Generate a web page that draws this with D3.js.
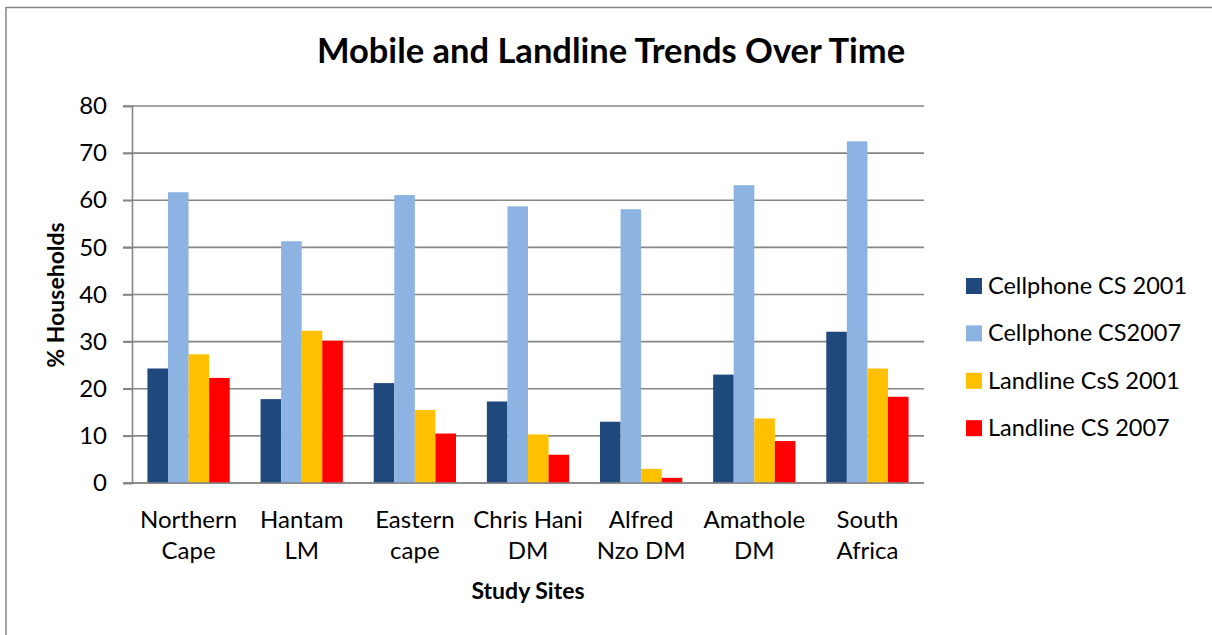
<!DOCTYPE html>
<html>
<head>
<meta charset="utf-8">
<script src="https://cdn.jsdelivr.net/npm/d3@7/dist/d3.min.js"></script>
<style>
  html, body { margin: 0; padding: 0; background: #fff; }
  svg { display: block; font-family: Lato, "Open Sans", sans-serif; }
</style>
</head>
<body>
<svg id="chart" width="1212" height="635"></svg>
<script>
// Study sites (two-line category labels)
const categories = [
  ["Northern", "Cape"],
  ["Hantam", "LM"],
  ["Eastern", "cape"],
  ["Chris Hani", "DM"],
  ["Alfred", "Nzo DM"],
  ["Amathole", "DM"],
  ["South", "Africa"]
];

const seriesNames = ["Cellphone CS 2001", "Cellphone CS2007", "Landline CsS 2001", "Landline CS 2007"];
const seriesColors = ["#1F497D", "#8DB3E2", "#FFC000", "#FF0000"];

// % households per site
const cellphone2001 = [24.3, 17.8, 21.2, 17.3, 13.0, 23.0, 32.1];
const cellphone2007 = [61.7, 51.3, 61.1, 58.7, 58.1, 63.2, 72.5];
const landline2001  = [27.3, 32.3, 15.5, 10.3, 3.0, 13.7, 24.3];
const landline2007  = [22.3, 30.2, 10.5, 6.0, 1.1, 8.9, 18.3];

const yTicks = [0, 10, 20, 30, 40, 50, 60, 70, 80];

const seriesValues = [cellphone2001, cellphone2007, landline2001, landline2007];
const catKeys = categories.map(c => c.join(" "));

const svg = d3.select("#chart");
const gridColor = "#868686";

// Outer chart frame (runs off the right and bottom edges)
svg.append("rect")
  .attr("x", 6).attr("y", 7.5)
  .attr("width", 1240).attr("height", 660)
  .attr("fill", "none").attr("stroke", gridColor).attr("stroke-width", 1.5);

const plot = { left: 132, right: 924, top: 106, bottom: 483 };

const x0 = d3.scaleBand()
  .domain(catKeys)
  .range([plot.left, plot.right])
  .paddingInner(0)
  .paddingOuter(0);

const groupPad = 1.5 / 5.5; // Excel gap width 150%
const x1 = d3.scaleBand()
  .domain(d3.range(seriesNames.length))
  .range([x0.bandwidth() * groupPad / 2, x0.bandwidth() * (1 - groupPad / 2)]);

const y = d3.scaleLinear().domain([0, 80]).range([plot.bottom, plot.top]);

// Gridlines
svg.append("g").selectAll("line")
  .data(yTicks)
  .join("line")
  .attr("x1", plot.left - 9).attr("x2", plot.right)
  .attr("y1", d => y(d)).attr("y2", d => y(d))
  .attr("stroke", gridColor).attr("stroke-width", 1.6);

// Bars
const groups = svg.append("g").selectAll("g")
  .data(catKeys)
  .join("g")
  .attr("transform", d => `translate(${x0(d)},0)`);

groups.selectAll("rect")
  .data((d, i) => seriesValues.map((vals, s) => ({ s, v: vals[i] })))
  .join("rect")
  .attr("x", d => x1(d.s))
  .attr("width", x1.bandwidth())
  .attr("y", d => y(d.v))
  .attr("height", d => y(0) - y(d.v))
  .attr("fill", d => seriesColors[d.s]);

// Y axis
const yAxis = svg.append("g")
  .attr("transform", `translate(${plot.left},0)`)
  .call(d3.axisLeft(y).tickValues(yTicks).tickSize(9).tickPadding(16));
yAxis.select(".domain").attr("stroke", gridColor).attr("stroke-width", 1.6);
yAxis.selectAll(".tick line").attr("stroke", gridColor).attr("stroke-width", 1.6);
yAxis.selectAll(".tick text")
  .attr("font-size", 24).attr("fill", "#000")
  .attr("font-family", "Lato, sans-serif");

// X axis line
svg.append("line")
  .attr("x1", plot.left - 9).attr("x2", plot.right)
  .attr("y1", plot.bottom).attr("y2", plot.bottom)
  .attr("stroke", gridColor).attr("stroke-width", 1.6);

// Category labels
const catLabels = svg.append("g").selectAll("text")
  .data(categories)
  .join("text")
  .attr("x", (d, i) => x0(catKeys[i]) + x0.bandwidth() / 2)
  .attr("y", 528)
  .attr("text-anchor", "middle")
  .attr("font-size", 24)
  .attr("fill", "#000");
catLabels.selectAll("tspan")
  .data(d => d)
  .join("tspan")
  .attr("x", function () { return d3.select(this.parentNode).attr("x"); })
  .attr("dy", (d, i) => i === 0 ? 0 : 31)
  .text(d => d);

// Title
svg.append("text")
  .attr("x", 611).attr("y", 63)
  .attr("text-anchor", "middle")
  .attr("font-size", 34.5).attr("font-weight", "bold")
  .text("Mobile and Landline Trends Over Time");

// Axis titles
svg.append("text")
  .attr("x", 528).attr("y", 599)
  .attr("text-anchor", "middle")
  .attr("font-size", 23).attr("font-weight", "bold")
  .text("Study Sites");

svg.append("text")
  .attr("transform", "translate(64,295) rotate(-90)")
  .attr("text-anchor", "middle")
  .attr("font-size", 23).attr("font-weight", "bold")
  .text("% Households");

// Legend
const legend = svg.append("g").selectAll("g")
  .data(seriesNames)
  .join("g")
  .attr("transform", (d, i) => `translate(966,${286 + i * 47.4})`);
legend.append("rect")
  .attr("x", 0).attr("y", -8)
  .attr("width", 16).attr("height", 16)
  .attr("fill", (d, i) => seriesColors[i]);
legend.append("text")
  .attr("x", 22).attr("y", 8)
  .attr("font-size", 23.5)
  .text(d => d);
</script>
</body>
</html>
